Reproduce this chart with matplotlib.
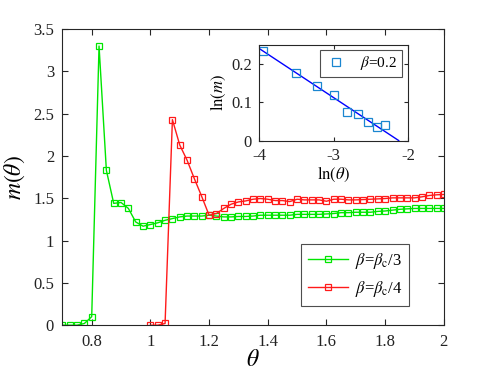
import matplotlib
matplotlib.use('Agg')
import matplotlib.pyplot as plt
import numpy as np

# main curves: theta grid and m(theta)
theta_g = [0.700, 0.725, 0.750, 0.775, 0.800, 0.825, 0.850, 0.875, 0.900, 0.925,
           0.950, 0.975, 1.000, 1.025, 1.050, 1.075, 1.100, 1.125, 1.150, 1.175,
           1.200, 1.225, 1.250, 1.275, 1.300, 1.325, 1.350, 1.375, 1.400, 1.425,
           1.450, 1.475, 1.500, 1.525, 1.550, 1.575, 1.600, 1.625, 1.650, 1.675,
           1.700, 1.725, 1.750, 1.775, 1.800, 1.825, 1.850, 1.875, 1.900, 1.925,
           1.950, 1.975, 2.000]
m_g = [0.00, 0.00, 0.00, 0.02, 0.10, 3.30, 1.83, 1.44, 1.45, 1.38,
       1.22, 1.17, 1.19, 1.21, 1.24, 1.26, 1.28, 1.29, 1.29, 1.29,
       1.30, 1.29, 1.28, 1.28, 1.285, 1.285, 1.29, 1.30, 1.30, 1.30,
       1.30, 1.30, 1.31, 1.31, 1.31, 1.31, 1.315, 1.32, 1.33, 1.33,
       1.335, 1.335, 1.335, 1.345, 1.35, 1.36, 1.37, 1.375, 1.38, 1.38,
       1.38, 1.38, 1.38]

theta_r = [1.000, 1.025, 1.050, 1.075, 1.100, 1.125, 1.150, 1.175, 1.200, 1.225,
           1.250, 1.275, 1.300, 1.325, 1.350, 1.375, 1.400, 1.425, 1.450, 1.475,
           1.500, 1.525, 1.550, 1.575, 1.600, 1.625, 1.650, 1.675, 1.700, 1.725,
           1.750, 1.775, 1.800, 1.825, 1.850, 1.875, 1.900, 1.925, 1.950, 1.975,
           2.000]
m_r = [0.00, 0.00, 0.02, 2.43, 2.13, 1.95, 1.73, 1.52, 1.30, 1.32,
       1.38, 1.43, 1.457, 1.469, 1.489, 1.497, 1.489, 1.473, 1.473, 1.461,
       1.489, 1.481, 1.481, 1.481, 1.465, 1.489, 1.489, 1.481, 1.481, 1.485,
       1.489, 1.493, 1.497, 1.505, 1.505, 1.505, 1.505, 1.517, 1.533, 1.541,
       1.545]

# inset: ln(theta) vs ln(m) and fitted line
ln_theta = [-3.946, -3.504, -3.228, -2.996, -2.821, -2.665, -2.531, -2.415, -2.308]
ln_m = [0.234, 0.1755, 0.142, 0.119, 0.075, 0.068, 0.048, 0.036, 0.040]
fit_x = [-4.0, -2.125]
fit_slope = -0.128
fit_icpt = -0.272

plt.rcParams['font.family'] = ['Liberation Serif', 'DejaVu Serif']
plt.rcParams['mathtext.fontset'] = 'stix'
plt.rcParams['axes.linewidth'] = 0.8

axis_col = '#262626'

fig = plt.figure(figsize=(4.91, 3.83), dpi=100)
ax = fig.add_axes([0.127, 0.151, 0.777, 0.773])

ax.plot(theta_g, m_g, '-s', color='#00e600', mfc='none', mec='#00e600',
        ms=5, lw=1.0, mew=0.9, label=r'$\beta$=$\beta_{\rm c}$/3')
ax.plot(theta_r, m_r, '-s', color='#ff1a1a', mfc='none', mec='#ff1a1a',
        ms=5, lw=1.0, mew=0.9, label=r'$\beta$=$\beta_{\rm c}$/4')

ax.set_xlim(0.7, 2.0)
ax.set_ylim(0, 3.5)
ax.set_xticks([0.8, 1.0, 1.2, 1.4, 1.6, 1.8, 2.0])
ax.set_xticklabels(['0.8', '1', '1.2', '1.4', '1.6', '1.8', '2'])
ax.set_yticks([0, 0.5, 1, 1.5, 2, 2.5, 3, 3.5])
ax.set_yticklabels(['0', '0.5', '1', '1.5', '2', '2.5', '3', '3.5'])
ax.tick_params(direction='in', top=True, right=True, length=4, width=0.8,
               labelsize=12, colors=axis_col, labelcolor='#222222', pad=6)
for s in ax.spines.values():
    s.set_color(axis_col)
ax.set_xlabel(r'$\theta$', fontsize=17, labelpad=0)
ax.set_ylabel(r'$m(\theta)$', fontsize=17, labelpad=4)

leg = ax.legend(loc='lower right', bbox_to_anchor=(0.908, 0.065), fontsize=12,
                frameon=True, fancybox=False, edgecolor='#222222',
                handlelength=2.4, borderpad=0.4, labelspacing=0.5,
                handletextpad=0.4, borderaxespad=0)
leg.get_frame().set_linewidth(0.8)

# inset
axi = fig.add_axes([0.5275, 0.633, 0.3035, 0.2507])
fit_y = [fit_slope * x + fit_icpt for x in fit_x]
axi.plot(fit_x, fit_y, color='#0000ff', lw=1.0)
axi.plot(ln_theta, ln_m, 's', mfc='none', mec='#1a86d0', ms=5.5, mew=0.9,
         label=r'$\beta$=0.2')
axi.set_xlim(-4, -2)
axi.set_ylim(0, 0.25)
axi.set_xticks([-4, -3, -2])
axi.set_xticklabels(['-4', '-3', '-2'])
axi.set_yticks([0, 0.1, 0.2])
axi.set_yticklabels(['0', '0.1', '0.2'])
axi.tick_params(direction='in', top=True, right=True, length=3, width=0.8,
                labelsize=12, colors=axis_col, labelcolor='#222222', pad=5)
for s in axi.spines.values():
    s.set_color(axis_col)
axi.set_xlabel(r'$\ln(\theta)$', fontsize=12, labelpad=1)
axi.set_ylabel(r'$\ln(m)$', fontsize=12, labelpad=2)
li = axi.legend(loc='upper right', bbox_to_anchor=(0.958, 0.948), fontsize=11,
                frameon=True, fancybox=False, edgecolor='#222222',
                handlelength=1.5, borderpad=0.3, handletextpad=0.8,
                borderaxespad=0)
li.get_frame().set_linewidth(0.8)

fig.savefig('out.png', dpi=100, facecolor='white')
